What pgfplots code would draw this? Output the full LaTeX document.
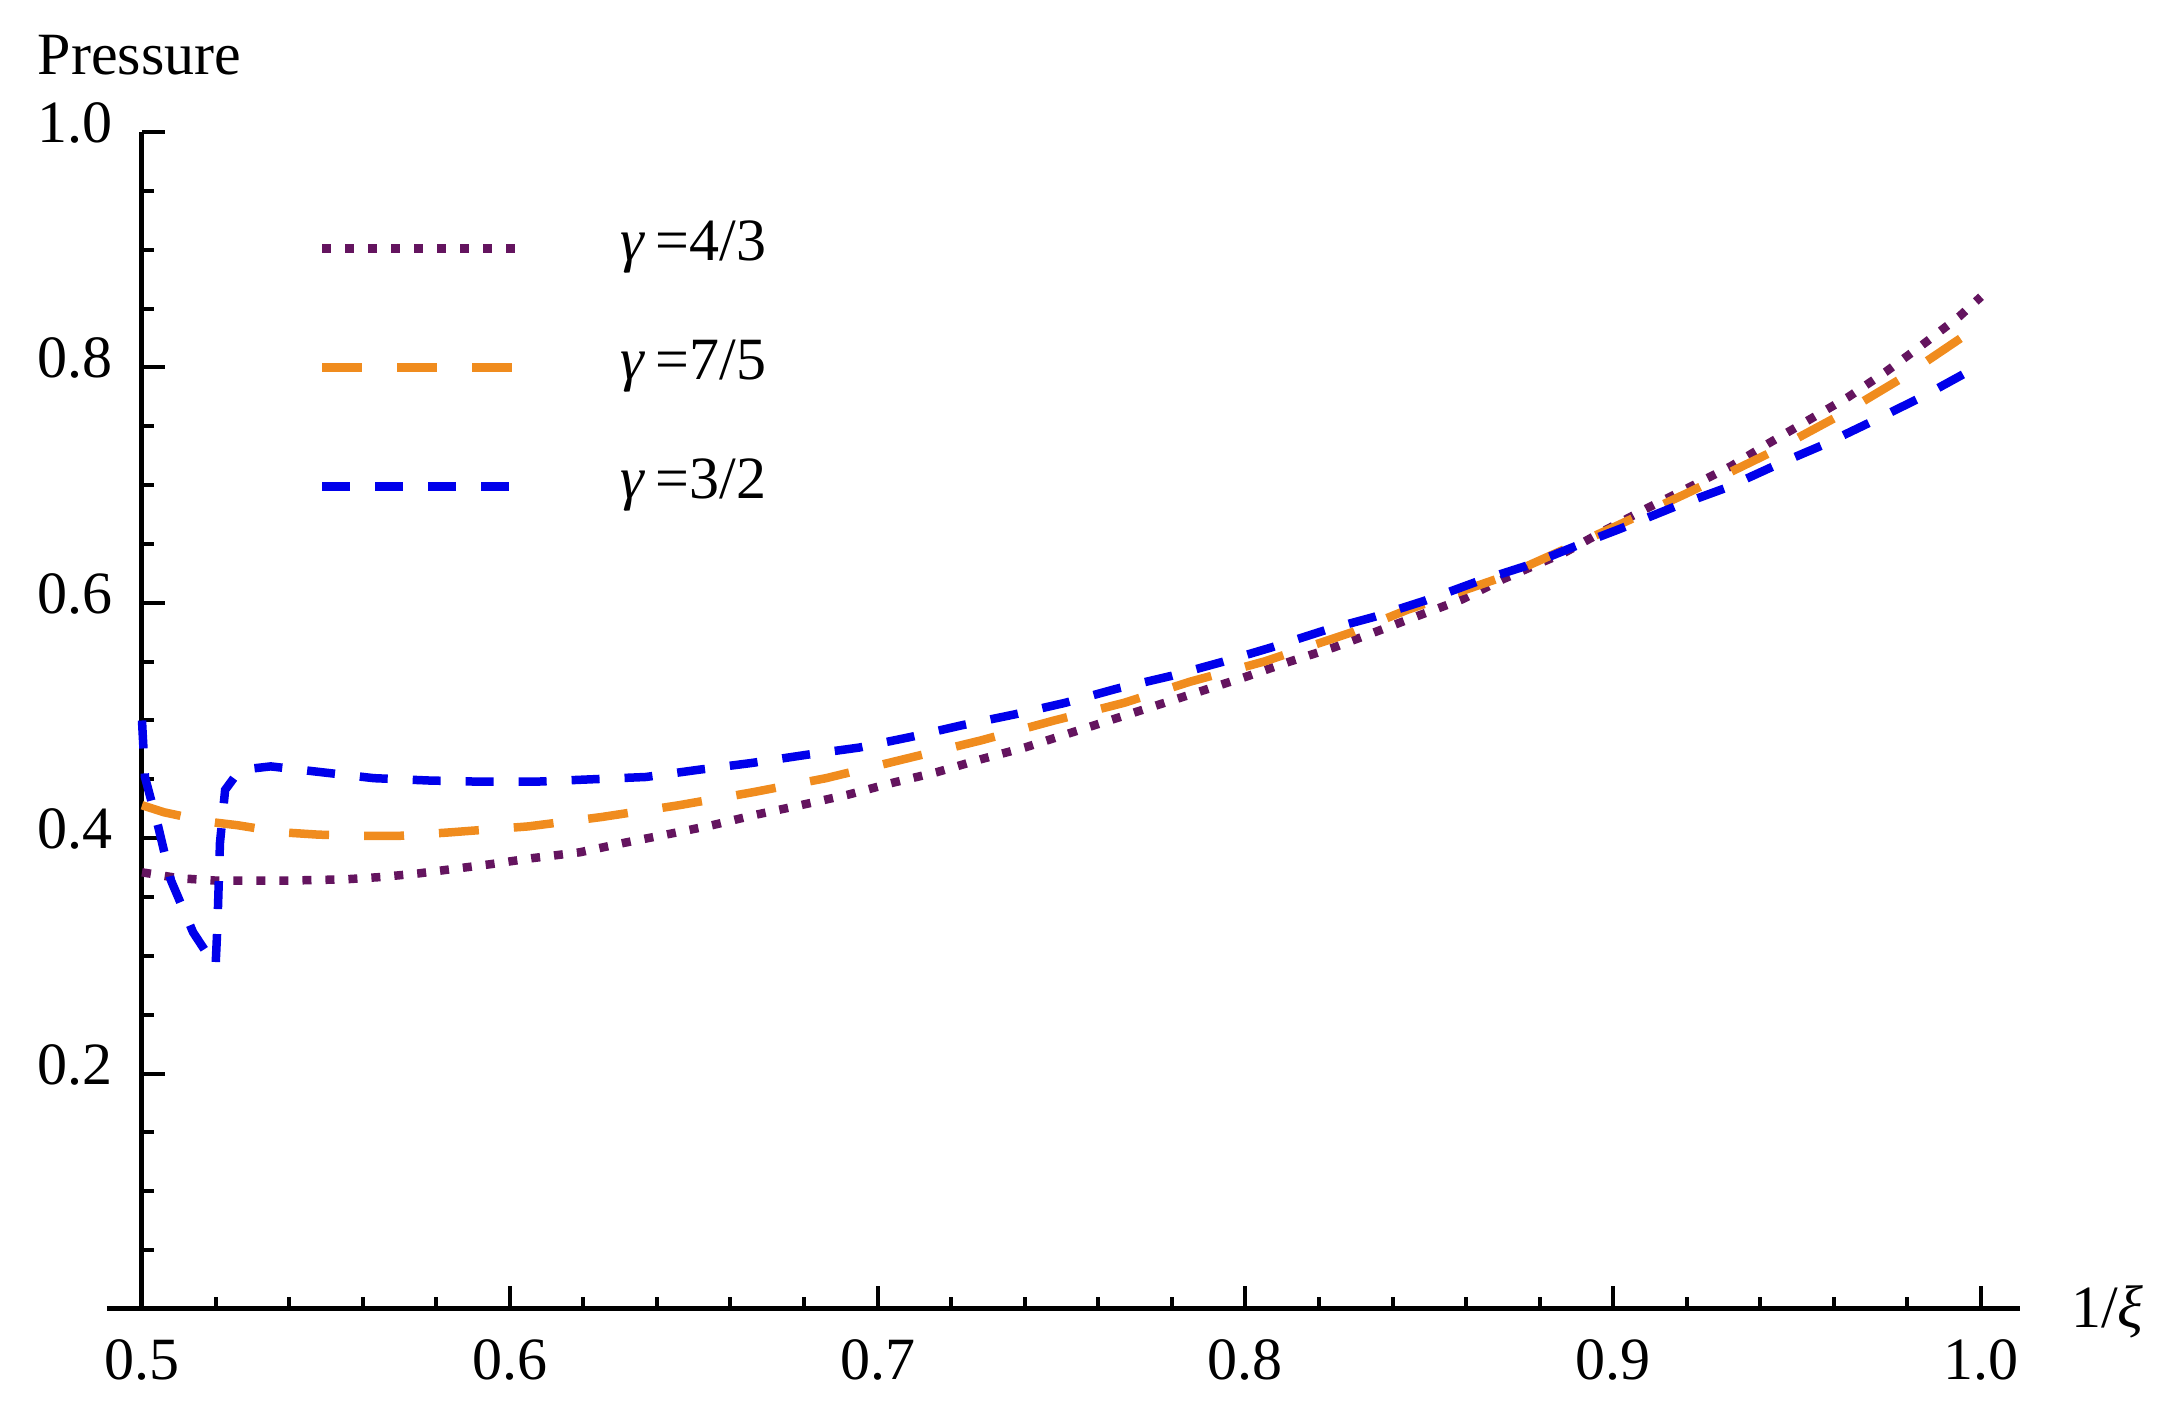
\documentclass[border=0pt]{standalone}
\usepackage{fontspec}
\setmainfont{Liberation Serif}
\usepackage{pgfplots}
\pgfplotsset{compat=1.18}
\definecolor{cpurple}{RGB}{100,20,95}
\definecolor{corange}{RGB}{240,140,30}
\definecolor{cblue}{RGB}{0,0,235}
\begin{document}
\fontsize{12}{14}\selectfont
\begin{tikzpicture}
\begin{axis}[
  scale only axis, width=367.8pt, height=235.4pt,
  xmin=0.5, xmax=1.0, ymin=0, ymax=1.0,
  clip=false,
  axis x line=bottom, axis y line=left,
  x axis line style={-, line width=1pt, shorten <=-7pt, shorten >=-7.8pt},
  y axis line style={-, line width=1pt},
  tick align=inside,
  xtick={0.5,0.6,0.7,0.8,0.9,1.0},
  minor x tick num=4,
  ytick={0.2,0.4,0.6,0.8,1.0},
  minor ytick={0.05,0.1,0.15,0.25,0.3,0.35,0.45,0.5,0.55,0.65,0.7,0.75,0.85,0.9,0.95},
  major tick length=4.6pt, minor tick length=2.4pt,
  every tick/.style={black, line width=0.8pt},
  /pgf/number format/assume math mode=true,
  x tick label style={/pgf/number format/fixed, /pgf/number format/fixed zerofill, /pgf/number format/precision=1, inner sep=0pt, yshift=-6pt, font=\fontsize{12}{14}\selectfont},
  y tick label style={/pgf/number format/fixed, /pgf/number format/fixed zerofill, /pgf/number format/precision=1, inner sep=0pt, xshift=-5.6pt, yshift=1.8pt, font=\fontsize{12}{14}\selectfont},
  every axis x label/.style={at={(axis description cs:1,0)}, anchor=base west, xshift=17.8pt, yshift=-3.6pt, inner sep=0pt, font=\fontsize{12}{14}\selectfont},
  every axis y label/.style={at={(axis description cs:0,1)}, anchor=base west, xshift=-21pt, yshift=11.4pt, inner sep=0pt, font=\fontsize{12}{14}\selectfont},
  xlabel={1/\textit{ξ}},
  ylabel={Pressure},
  legend style={draw=none, fill=none, at={(axis cs:0.5479,0.9244)}, anchor=north west, inner sep=0pt, outer sep=0pt, row sep=12.8pt, nodes={inner sep=0pt, text height=8pt, text depth=3pt, font=\fontsize{12}{14}\selectfont}, /tikz/every odd column/.append style={column sep=19pt}},
  legend cell align=left,
  legend image code/.code={\draw[#1] (0pt,0pt) -- (39.8pt,0pt);},
]
\addplot[cpurple, line width=1.7pt, dash pattern=on 1.8pt off 2.8pt] table {
x y
0.500 0.371
0.510 0.366
0.520 0.364
0.530 0.364
0.540 0.364
0.555 0.365
0.565 0.367
0.575 0.370
0.585 0.374
0.595 0.378
0.606 0.383
0.619 0.388
0.631 0.396
0.644 0.404
0.655 0.411
0.667 0.420
0.679 0.428
0.692 0.437
0.704 0.447
0.716 0.456
0.728 0.467
0.740 0.477
0.752 0.489
0.764 0.501
0.776 0.513
0.788 0.525
0.800 0.537
0.812 0.550
0.824 0.562
0.836 0.576
0.847 0.589
0.859 0.603
0.870 0.620
0.887 0.643
0.898 0.662
0.909 0.680
0.920 0.697
0.932 0.716
0.942 0.735
0.953 0.755
0.964 0.775
0.974 0.796
0.984 0.819
0.994 0.843
1.000 0.860
};
\addlegendentry{\textit{γ}\,=4/3}
\addplot[corange, line width=1.7pt, dash pattern=on 8pt off 7pt] table {
x y
0.500 0.428
0.506 0.422
0.518 0.414
0.526 0.411
0.538 0.405
0.548 0.403
0.560 0.402
0.570 0.402
0.584 0.405
0.605 0.410
0.625 0.418
0.646 0.428
0.666 0.439
0.686 0.451
0.707 0.467
0.728 0.483
0.748 0.500
0.767 0.515
0.785 0.533
0.805 0.550
0.829 0.575
0.844 0.594
0.870 0.622
0.900 0.664
0.920 0.693
0.943 0.728
0.962 0.760
0.978 0.790
0.996 0.828
1.000 0.835
};
\addlegendentry{\textit{γ}\,=7/5}
\addplot[cblue, line width=1.7pt, dash pattern=on 5.6pt off 5pt] table {
x y
0.5000 0.500
0.5008 0.452
0.5044 0.410
0.5079 0.364
0.5139 0.320
0.5200 0.291
0.5205 0.325
0.5212 0.396
0.5226 0.441
0.5266 0.458
0.535 0.461
0.549 0.456
0.563 0.451
0.578 0.449
0.592 0.448
0.607 0.448
0.622 0.450
0.637 0.452
0.651 0.458
0.666 0.464
0.681 0.471
0.695 0.477
0.709 0.486
0.723 0.496
0.737 0.505
0.751 0.515
0.765 0.527
0.780 0.538
0.794 0.550
0.807 0.562
0.822 0.577
0.835 0.588
0.849 0.602
0.863 0.618
0.877 0.632
0.892 0.651
0.902 0.663
0.917 0.682
0.931 0.698
0.945 0.718
0.957 0.734
0.971 0.755
0.984 0.775
0.998 0.799
1.000 0.802
};
\addlegendentry{\textit{γ}\,=3/2}
\end{axis}
\pgfresetboundingbox
\path[use as bounding box] (-28.4pt,-21.4pt) rectangle (407.2pt,261.8pt);
\end{tikzpicture}
\end{document}
